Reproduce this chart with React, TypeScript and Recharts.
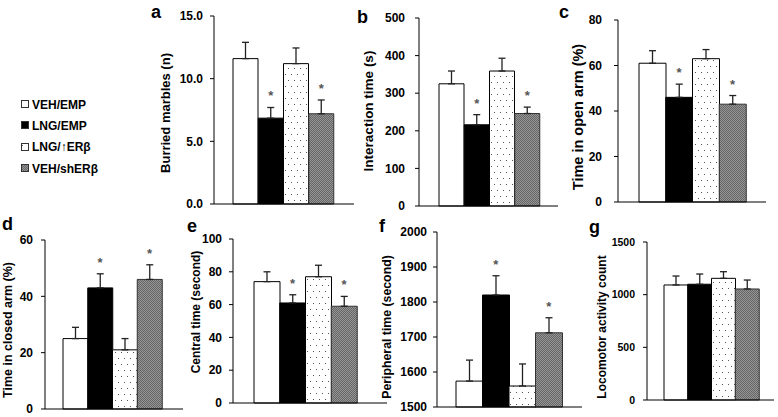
import React from "react"
import { Bar, BarChart, Cell, ErrorBar, ReferenceDot, XAxis, YAxis } from "recharts"

const groups = ["VEH/EMP", "LNG/EMP", "LNG/↑ERβ", "VEH/shERβ"]
const fills = ["#ffffff", "#000000", "url(#dots)", "url(#hatch)"]

// a - buried marbles
const marbles = [11.6, 6.85, 11.2, 7.2]
const marblesErr = [1.3, 0.85, 1.25, 1.1]
const marblesTicks = [0, 5, 10, 15]
// b - interaction time
const interaction = [325, 216, 359, 246]
const interactionErr = [34, 27, 34, 17]
const interactionTicks = [0, 100, 200, 300, 400, 500]
// c - open arm
const openArm = [61, 46, 63, 43]
const openArmErr = [5.5, 5.8, 4, 3.8]
const openArmTicks = [0, 20, 40, 60, 80]
// d - closed arm
const closedArm = [25, 43, 21, 46]
const closedArmErr = [4, 5, 4, 5.2]
const closedArmTicks = [0, 20, 40, 60]
// e - central time
const central = [74, 61, 77, 59]
const centralErr = [6, 5, 7, 6]
const centralTicks = [0, 20, 40, 60, 80, 100]
// f - peripheral time
const peripheral = [1574, 1820, 1560, 1712]
const peripheralErr = [60, 55, 63, 43]
const peripheralTicks = [1500, 1600, 1700, 1800, 1900, 2000]
// g - locomotor activity
const locomotor = [1092, 1099, 1155, 1054]
const locomotorErr = [85, 97, 63, 85]
const locomotorTicks = [0, 500, 1000, 1500]

const starsMain = [false, true, false, true]
const starsNone = [false, false, false, false]

const FONT = "'Liberation Sans', Arial, sans-serif"

type PanelProps = {
  letter: string
  letterPos: [number, number]
  title: string
  titleSize: number
  values: number[]
  errs: number[]
  stars: boolean[]
  ticks: number[]
  decimals: number
  tickSize: number
  axisX: number
  top: number
  bottom: number
  right: number
  padL: number
  padR: number
  labelX: number
  labelY: number
  tickGap: number
}

function Panel(p: PanelProps) {
  const rows = groups.map((name, i) => ({
    name,
    value: p.values[i],
    err: [0, p.errs[i]],
    star: p.stars[i],
  }))
  const chartLeft = Math.max(0, p.labelX - 10)
  const chartTop = p.top - 10
  const yw = p.axisX - chartLeft
  const width = p.right - chartLeft + 6
  const height = p.bottom - chartTop + 10
  return (
    <>
      <div
        style={{
          position: "absolute",
          left: p.letterPos[0],
          top: p.letterPos[1],
          fontSize: 18,
          fontWeight: "bold",
          lineHeight: 1,
          fontFamily: FONT,
        }}
      >
        {p.letter}
      </div>
      <div style={{ position: "absolute", left: chartLeft, top: chartTop }}>
        <BarChart
          width={width}
          height={height}
          data={rows}
          margin={{ top: 10, right: 6, bottom: 2, left: 0 }}
          barCategoryGap={0}
        >
          <XAxis
            dataKey="name"
            tick={false}
            tickLine={false}
            height={8}
            padding={{ left: p.padL, right: p.padR }}
            stroke="#000"
          />
          <YAxis
            width={yw}
            domain={[p.ticks[0], p.ticks[p.ticks.length - 1]]}
            ticks={p.ticks}
            interval={0}
            tickSize={4}
            tickMargin={p.tickGap}
            stroke="#000"
            tickFormatter={(v) => Number(v).toFixed(p.decimals)}
            tick={{ fill: "#000", fontSize: p.tickSize, fontWeight: "bold", fontFamily: FONT }}
            label={{
              value: p.title,
              angle: -90,
              position: "insideLeft",
              offset: p.labelX - chartLeft,
              dy: p.labelY - (p.top + p.bottom) / 2,
              style: { textAnchor: "middle", fontWeight: "bold", fontSize: p.titleSize, fill: "#000", fontFamily: FONT },
            }}
          />
          <Bar dataKey="value" isAnimationActive={false} stroke="#000" strokeWidth={1}>
            {rows.map((r, i) => (
              <Cell key={r.name} fill={fills[i]} stroke={i === 3 ? "#333" : "#000"} />
            ))}
            <ErrorBar dataKey="err" direction="y" width={3.5} stroke="#222" strokeWidth={1.3} isAnimationActive={false} />
          </Bar>
          {rows
            .filter((r) => r.star)
            .map((r) => (
              <ReferenceDot
                key={r.name}
                x={r.name}
                y={r.value + r.err[1]}
                r={1}
                fill="none"
                stroke="none"
                label={{ value: "*", position: "top", offset: 6, fill: "#555", fontSize: 13, fontWeight: "bold", fontFamily: FONT }}
              />
            ))}
        </BarChart>
      </div>
    </>
  )
}

function Legend() {
  return (
    <div style={{ position: "absolute", left: 21, top: 94, fontFamily: FONT, fontSize: 12, fontWeight: "bold" }}>
      {groups.map((g, i) => (
        <div key={g} style={{ display: "flex", alignItems: "center", height: 21.3 }}>
          <svg width={9} height={9} style={{ marginRight: 2 }}>
            <rect x={0.5} y={0.5} width={7} height={7} fill={fills[i]} stroke="#333" />
          </svg>
          <span>{g}</span>
        </div>
      ))}
    </div>
  )
}

export default function App() {
  return (
    <div style={{ position: "absolute", left: 0, top: 0, width: 778, height: 417, background: "#fff", fontFamily: FONT }}>
      <svg width={0} height={0} style={{ position: "absolute" }}>
        <defs>
          <pattern id="dots" width={6} height={12} patternUnits="userSpaceOnUse">
            <rect width={6} height={12} fill="#fff" />
            <rect x={1} y={2} width={1} height={1} fill="#555" />
            <rect x={4} y={8} width={1} height={1} fill="#555" />
          </pattern>
          <pattern id="hatch" width={2} height={2} patternUnits="userSpaceOnUse">
            <rect width={2} height={2} fill="#959595" />
            <rect x={0} y={0} width={1} height={1} fill="#666" />
            <rect x={1} y={1} width={1} height={1} fill="#666" />
          </pattern>
        </defs>
      </svg>
      <Legend />
      <Panel letter="a" letterPos={[151, 3]} title="Burried marbles (n)" titleSize={13} values={marbles} errs={marblesErr}
        stars={starsMain} ticks={marblesTicks} decimals={1} tickSize={12} axisX={214} top={16} bottom={204} right={354}
        padL={19} padR={20} labelX={165} labelY={113} tickGap={7} />
      <Panel letter="b" letterPos={[357, 8]} title="Interaction time (s)" titleSize={13.5} values={interaction} errs={interactionErr}
        stars={starsMain} ticks={interactionTicks} decimals={0} tickSize={12} axisX={419} top={18} bottom={206} right={558}
        padL={20} padR={18} labelX={368} labelY={111} tickGap={10} />
      <Panel letter="c" letterPos={[559, 3]} title="Time in open arm (%)" titleSize={14.5} values={openArm} errs={openArmErr}
        stars={starsMain} ticks={openArmTicks} decimals={0} tickSize={12} axisX={618} top={20} bottom={202} right={766}
        padL={21} padR={20} labelX={578} labelY={117} tickGap={12} />
      <Panel letter="d" letterPos={[2, 215]} title="Time in closed arm (%)" titleSize={12.5} values={closedArm} errs={closedArmErr}
        stars={starsMain} ticks={closedArmTicks} decimals={0} tickSize={12} axisX={45} top={240} bottom={409} right={183}
        padL={18} padR={21} labelX={8} labelY={330} tickGap={8} />
      <Panel letter="e" letterPos={[187, 217]} title="Central time (second)" titleSize={12} values={central} errs={centralErr}
        stars={starsMain} ticks={centralTicks} decimals={0} tickSize={12} axisX={233} top={239} bottom={403} right={387}
        padL={21} padR={30} labelX={196} labelY={312} tickGap={7} />
      <Panel letter="f" letterPos={[379, 217]} title="Peripheral time (second)" titleSize={12.3} values={peripheral} errs={peripheralErr}
        stars={starsMain} ticks={peripheralTicks} decimals={0} tickSize={12} axisX={437} top={232} bottom={407} right={582}
        padL={19} padR={20} labelX={387} labelY={327} tickGap={6} />
      <Panel letter="g" letterPos={[589, 218]} title="Locomotor activity count" titleSize={12} values={locomotor} errs={locomotorErr}
        stars={starsNone} ticks={locomotorTicks} decimals={0} tickSize={10.5} axisX={647} top={242} bottom={400} right={774}
        padL={17} padR={15} labelX={602} labelY={327} tickGap={8} />
    </div>
  )
}
